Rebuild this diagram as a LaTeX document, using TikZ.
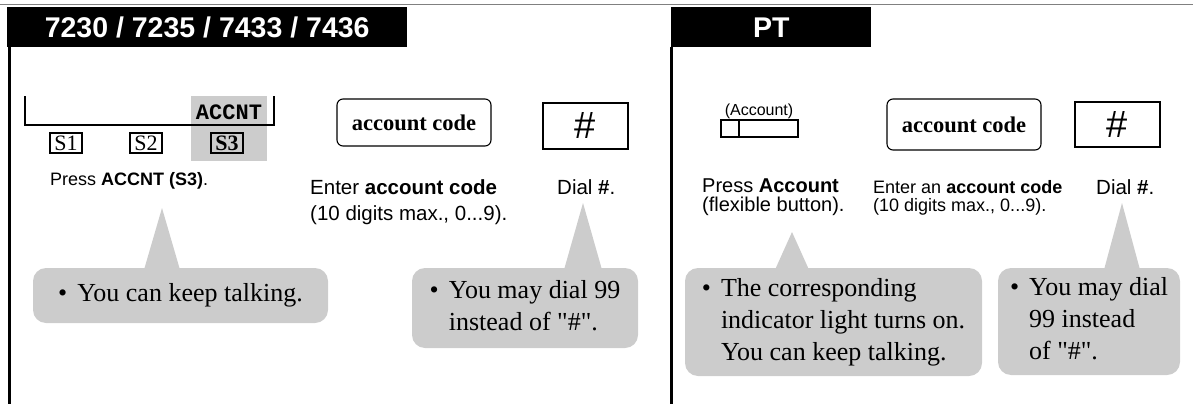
\documentclass[tikz,border=0pt]{standalone}
\usepackage{fontspec}
\setmainfont{Liberation Serif}\setsansfont{Liberation Sans}\setmonofont{Liberation Mono}
\usetikzlibrary{positioning,calc}
\definecolor{bubble}{HTML}{CCCCCC}
\definecolor{rule}{HTML}{808080}
\newcommand\fsz[2]{\fontsize{#1}{#2}\selectfont}
\newcommand\tipbody[1]{\begin{tabular}{@{}l@{\hspace{10pt}}l@{}}\textbullet&#1\end{tabular}}
\newcommand\qhash{\textquotedbl\#\textquotedbl}
\tikzset{hdr/.style={fill=black,text=white,inner sep=0pt,minimum height=40pt,anchor=north west,font=\sffamily\bfseries\fsz{28.5}{30}}, lbl/.style={inner sep=0pt,align=left,font=\sffamily\fsz{20.5}{26}},keybox/.style={draw,rounded corners=6pt,line width=1.1pt,minimum width=154pt,inner sep=0pt,font=\bfseries\fsz{22.5}{24}},hashbox/.style={draw,line width=2.4pt,minimum width=85pt,inner sep=0pt,font=\sffamily\fsz{38}{40}},skey/.style={draw,line width=1.1pt,inner sep=0pt,minimum width=32pt,minimum height=20pt,font=\fsz{22}{22}},tip/.style={fill=bubble,rounded corners=13pt,inner sep=0pt,align=left,font=\fsz{26}{32}}}

\begin{document}
\begin{tikzpicture}[x=1pt,y=-1pt]
\useasboundingbox (0,0) rectangle (1193,404);
\draw[rule,line width=1pt](0,5)--(1193,5);
\node[hdr,minimum width=400pt](hdrL) at (7,7){7230 / 7235 / 7433 / 7436};
\node[hdr,minimum width=200pt](hdrR) at (671,7){PT};
\draw[line width=2.5pt](9.5,47)--(9.5,404);\draw[line width=2.2pt](671.5,47)--(671.5,404);
% left panel
\fill[bubble](191,96) rectangle (267,161);
\draw[line width=2pt](25,96)|-(274,125)--(274,96);
\node[inner sep=0pt,font=\ttfamily\bfseries\fsz{22}{22}](accnt) at (229,112){ACCNT};
\foreach \k/\x in {1/66,2/146} \node[skey](s\k) at (\x,143){S\k};
\node[skey,line width=1.5pt,font=\bfseries\fsz{22}{22}](s3) at (227,143){S3};
\node[keybox,minimum height=47pt](codeL) at (414,122.5){account code};
\node[hashbox,minimum height=46pt](hashL) at (585.5,126){\#};
\node[lbl,anchor=west,font=\sffamily\fsz{18}{22}](pressL) at (50,181){Press \textbf{ACCNT (S3)}.};
\node[lbl,anchor=north west](enterL) at (310,179){Enter \textbf{account code}\\(10 digits max., 0...9).};
\node[lbl,anchor=west](dialL) at (557,187){Dial \textbf{\#}.};
\node[tip,minimum width=295pt,minimum height=55pt](tipA) at (180.5,295.5){\tipbody{You can keep talking.}};
\node[tip,minimum width=226pt,minimum height=80pt](tipB) at (525,308){\tipbody{You may dial 99\\&instead of \qhash.}};
\coordinate(pA) at (162,208);\coordinate(pB) at (583,203);
% right panel
\node[draw,line width=2pt,inner sep=0pt,minimum width=77pt,minimum height=17pt](acct) at (759.5,128.5){};
\draw[line width=2pt]([xshift=19pt]acct.north west)--([xshift=19pt]acct.south west);
\node[inner sep=0pt,font=\sffamily\fsz{16}{16}](acctL) at (759,111){(Account)};
\node[keybox,minimum height=51pt](codeR) at (964,124.5){account code};
\node[hashbox,minimum height=45pt](hashR) at (1117.5,124.5){\#};
\node[lbl,anchor=north west,font=\sffamily\fsz{20}{18.5}](pressR) at (702,179){Press \textbf{Account}\\(flexible button).};
\node[lbl,anchor=north west,font=\sffamily\fsz{18}{18.5}](enterR) at (873,180){Enter an \textbf{account code}\\(10 digits max., 0...9).};
\node[lbl,anchor=west](dialR) at (1096,187){Dial \textbf{\#}.};
\node[tip,minimum width=297pt,minimum height=108pt](tipC) at (833.5,322){\tipbody{The corresponding\\&indicator light turns on.\\&You can keep talking.}};
\node[tip,minimum width=182pt,minimum height=107pt](tipD) at (1089,321.5){\tipbody{You may dial\\&99 instead\\&of \qhash.}};
\coordinate(pC) at (792,232);\coordinate(pD) at (1122,203);
% pointers
\foreach \p/\t/\w in {pA/tipA/18,pB/tipB/19,pC/tipC/17,pD/tipD/18}
  \fill[bubble]($(\p|-\t.north)+(-\w,2)$)--(\p)--($(\p|-\t.north)+(\w,2)$)--cycle;
\end{tikzpicture}
\end{document}
